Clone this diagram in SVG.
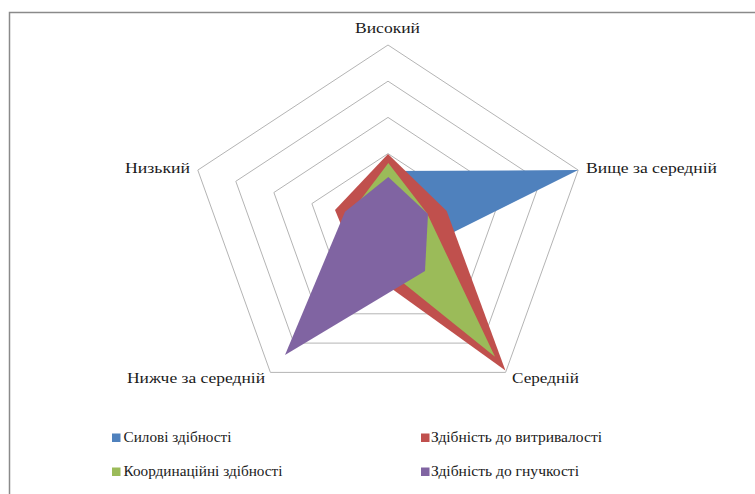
<svg xmlns="http://www.w3.org/2000/svg" width="755" height="494" viewBox="0 0 755 494">
<style>
.ring{fill:none;stroke:#b4b4b4;stroke-width:1}
</style>
<rect x="0" y="0" width="755" height="494" fill="#ffffff"/>
<path d="M9.5,494 V12.5 H755" fill="none" stroke="#8a8a8a" stroke-width="1.5"/>
<g id="grid">
<polygon class="ring" points="388,45 578.2,170.1 505.6,372.4 270.4,372.4 197.8,170.1"/>
<polygon class="ring" points="388,81.2 540.2,181.3 482.1,343.1 293.9,343.1 235.8,181.3"/>
<polygon class="ring" points="388,117.4 502.1,192.5 458.6,313.8 317.4,313.8 273.9,192.5"/>
<polygon class="ring" points="388,153.6 464.1,203.6 435,284.6 341,284.6 311.9,203.6"/>
<polygon class="ring" points="388,189.8 426,214.8 411.5,255.3 364.5,255.3 350,214.8"/>
</g>
<g id="series">
<polygon id="s-sylovi" fill="#4F81BD" points="388,171 578.2,170.1 410.3,253.8 364.5,255.3 350,214.8"/>
<polygon id="s-vytryvalist" fill="#C0504D" points="388,154 446.7,211 505.4,370.5 357.4,264 335,210"/>
<polygon id="s-koord" fill="#9BBB59" points="388.3,163 427,213.3 495,356.7 366,253 350,214"/>
<polygon id="s-hnuchkist" fill="#8064A2" points="388.3,177 428,214 425,271 285,355 345,211.7"/>
</g>
<g id="axis-labels" font-family="Liberation Serif, DejaVu Serif, serif" font-size="15" fill="#1a1a1a">
<text x="355" y="33" textLength="65" lengthAdjust="spacingAndGlyphs">Високий</text>
<text x="125" y="173" textLength="65" lengthAdjust="spacingAndGlyphs">Низький</text>
<text x="586" y="173" textLength="131" lengthAdjust="spacingAndGlyphs">Вище за середній</text>
<text x="512" y="383" textLength="67" lengthAdjust="spacingAndGlyphs">Середній</text>
<text x="127" y="383" textLength="138" lengthAdjust="spacingAndGlyphs">Нижче за середній</text>
</g>
<g id="legend" font-family="Liberation Serif, DejaVu Serif, serif" font-size="15" fill="#1a1a1a">
<g id="leg-sylovi"><rect x="112" y="433.5" width="8.5" height="8.5" fill="#4F81BD"/><text x="123.5" y="442" textLength="108" lengthAdjust="spacingAndGlyphs">Силові здібності</text></g>
<g id="leg-vytryvalist"><rect x="421" y="433.5" width="8.5" height="8.5" fill="#C0504D"/><text x="431" y="442" textLength="171" lengthAdjust="spacingAndGlyphs">Здібність до витривалості</text></g>
<g id="leg-koord"><rect x="112" y="467.5" width="8.5" height="8.5" fill="#9BBB59"/><text x="123.5" y="476" textLength="159" lengthAdjust="spacingAndGlyphs">Координаційні здібності</text></g>
<g id="leg-hnuchkist"><rect x="421" y="467.5" width="8.5" height="8.5" fill="#8064A2"/><text x="431" y="476" textLength="148" lengthAdjust="spacingAndGlyphs">Здібність до гнучкості</text></g>
</g>
</svg>
